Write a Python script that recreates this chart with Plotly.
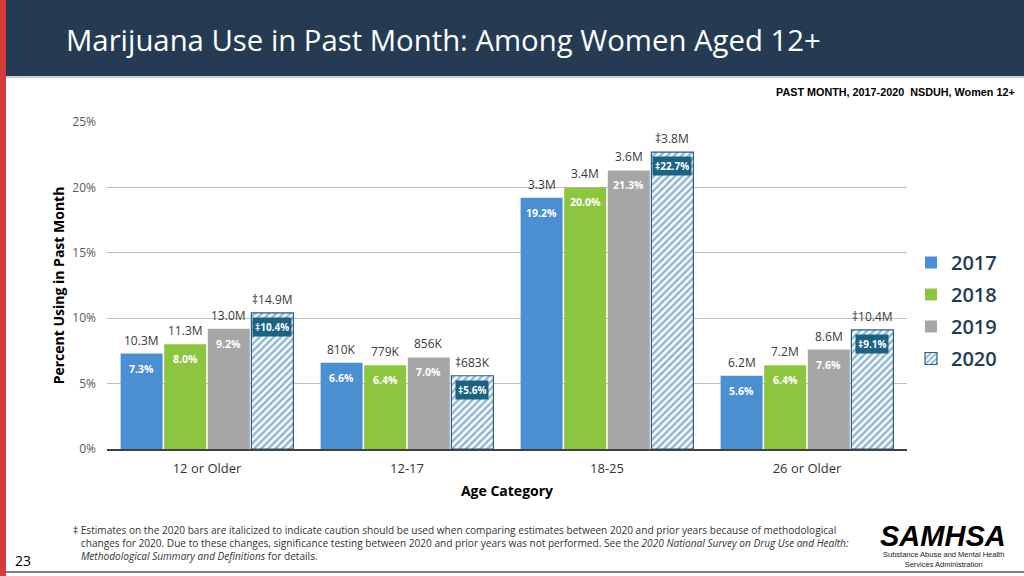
import plotly.graph_objects as go

categories = ["12 or Older", "12-17", "18-25", "26 or Older"]
years = ["2017", "2018", "2019", "2020"]
pct_2017 = [7.3, 6.6, 19.2, 5.6]
pct_2018 = [8.0, 6.4, 20.0, 6.4]
pct_2019 = [9.2, 7.0, 21.3, 7.6]
pct_2020 = [10.4, 5.6, 22.7, 9.1]
cnt_2017 = ["10.3M", "810K", "3.3M", "6.2M"]
cnt_2018 = ["11.3M", "779K", "3.4M", "7.2M"]
cnt_2019 = ["13.0M", "856K", "3.6M", "8.6M"]
cnt_2020 = ["‡14.9M", "‡683K", "‡3.8M", "‡10.4M"]
y_ticks = [0, 5, 10, 15, 20, 25]

series_pct = [pct_2017, pct_2018, pct_2019, pct_2020]
series_cnt = [cnt_2017, cnt_2018, cnt_2019, cnt_2020]
colors = ["#4a8fd1", "#8cc63f", "#a6a6a6", "#ffffff"]

FONT = "Open Sans, Noto Sans, sans-serif"
step = 0.218
width = 0.21

# pixel helpers for decorations (plot area: x 107..907, y 122..449)
def px(x):
    return (x - 107) / 800

def py(y):
    return (449 - y) / 327

fig = go.Figure()
annotations = []
for j, (yr, vals, cnts) in enumerate(zip(years, series_pct, series_cnt)):
    xs = [i + (j - 1.5) * step for i in range(len(categories))]
    if j < 3:
        marker = dict(color=colors[j], line=dict(width=0))
    else:
        marker = dict(color="#ffffff",
                      pattern=dict(shape="/", fgcolor="#2a68a0", bgcolor="#f2fafd",
                                   size=5, solidity=0.45),
                      line=dict(color="#2a5f86", width=1.2))
    fig.add_trace(go.Bar(x=xs, y=vals, width=width, name=yr, marker=marker,
                         legendgroup=yr, hoverinfo="skip"))
    for x, v, c in zip(xs, vals, cnts):
        annotations.append(dict(x=x, y=v, xref="x", yref="y", text=c, showarrow=False,
                                yanchor="bottom", yshift=3,
                                font=dict(family=FONT, size=12, color="#3a3a3a")))
        if j < 3:
            annotations.append(dict(x=x, y=v, xref="x", yref="y", text=f"<b>{v:.1f}%</b>",
                                    showarrow=False, yanchor="top", yshift=-6,
                                    font=dict(family=FONT, size=10.5, color="#ffffff")))
        else:
            annotations.append(dict(x=x, y=v, xref="x", yref="y", text=f"<b>‡{v:.1f}%</b>",
                                    showarrow=False, yanchor="top", yshift=-4,
                                    bgcolor="#1b6283", borderpad=2,
                                    font=dict(family=FONT, size=10, color="#ffffff")))

annotations += [
    dict(text="Marijuana Use in Past Month: Among Women Aged 12+", xref="paper", yref="paper",
         x=px(64), y=py(40), xanchor="left", yanchor="middle", showarrow=False,
         font=dict(family=FONT, size=29.3, color="#ffffff", weight=500)),
    dict(text="<b>PAST MONTH, 2017-2020  NSDUH, Women 12+</b>", xref="paper", yref="paper",
         x=px(1017), y=py(92), xanchor="right", yanchor="middle", showarrow=False,
         font=dict(family="Liberation Sans Narrow, Arial Narrow, Liberation Sans, sans-serif", size=10.8, color="#000000")),
    dict(text="‡ Estimates on the 2020 bars are italicized to indicate caution should be used when comparing estimates between 2020 and prior years because of methodological<br>"
              "   changes for 2020. Due to these changes, significance testing between 2020 and prior years was not performed. See the <i>2020 National Survey on Drug Use and Health:</i><br>"
              "   <i>Methodological Summary and Definitions</i> for details.",
         xref="paper", yref="paper", x=px(71), y=py(521), xanchor="left", yanchor="top",
         align="left", showarrow=False,
         font=dict(family=FONT, size=10.1, color="#333333")),
    dict(text="23", xref="paper", yref="paper", x=px(13), y=py(560),
         xanchor="left", yanchor="middle", showarrow=False,
         font=dict(family=FONT, size=14, color="#000000")),
    dict(text="<b><i>SAMHSA</i></b>", xref="paper", yref="paper", x=px(943), y=py(536),
         xanchor="center", yanchor="middle", showarrow=False,
         font=dict(family="Liberation Sans, Arial, sans-serif", size=29, color="#000000")),
    dict(text="Substance Abuse and Mental Health<br>Services Administration", xref="paper", yref="paper",
         x=px(943), y=py(559), xanchor="center", yanchor="middle", showarrow=False,
         font=dict(family="Liberation Sans Narrow, Arial Narrow, sans-serif", size=7.5, color="#222222")),
]

shapes = [
    dict(type="rect", xref="paper", yref="paper", x0=px(0), x1=px(1024), y0=py(76), y1=py(0),
         fillcolor="#243b53", line=dict(width=0), layer="below"),
    dict(type="line", xref="paper", yref="paper", x0=px(6), x1=px(1024), y0=py(77), y1=py(77),
         line=dict(color="#8fa3b3", width=1)),
    dict(type="rect", xref="paper", yref="paper", x0=px(0), x1=px(6), y0=py(576), y1=py(0),
         fillcolor="#d63a3a", line=dict(width=0)),
    dict(type="line", xref="paper", yref="paper", x0=px(6), x1=px(1024), y0=py(572), y1=py(572),
         line=dict(color="#555555", width=1.5)),
]

fig.update_layout(
    width=1024, height=576,
    margin=dict(l=107, r=117, t=122, b=127, autoexpand=False),
    paper_bgcolor="#ffffff", plot_bgcolor="#ffffff",
    barmode="overlay",
    annotations=annotations,
    shapes=shapes,
    font=dict(family=FONT),
    legend=dict(x=px(911), y=py(243), xanchor="left", yanchor="top",
                font=dict(family=FONT, size=20, color="#243b53", weight=600),
                tracegroupgap=3, bgcolor="rgba(0,0,0,0)", itemclick=False),
    showlegend=True,
)

fig.update_xaxes(range=[-0.5, 3.5], tickvals=list(range(len(categories))), ticktext=categories,
                 showgrid=False, showline=True, linecolor="#404040", linewidth=1.5,
                 tickfont=dict(family=FONT, size=13, color="#333333"), ticks="",
                 ticklabelstandoff=7, automargin=False,
                 title=dict(text="<b>Age Category</b>", font=dict(family=FONT, size=14, color="#000000"),
                            standoff=10))
fig.update_yaxes(range=[0, 25], tickvals=y_ticks, ticktext=[f"{v}%" for v in y_ticks],
                 showgrid=True, gridcolor="#bfbfbf", gridwidth=1, zeroline=False,
                 tickfont=dict(family=FONT, size=12, color="#595959"), ticks="",
                 ticklabelstandoff=10, automargin=False,
                 title=dict(text="<b>Percent Using in Past Month</b>",
                            font=dict(family=FONT, size=14, color="#000000"), standoff=4))

fig.write_html("out.html", config={"displayModeBar": False},
               post_script="document.body.style.margin='0';document.body.style.padding='0';")
